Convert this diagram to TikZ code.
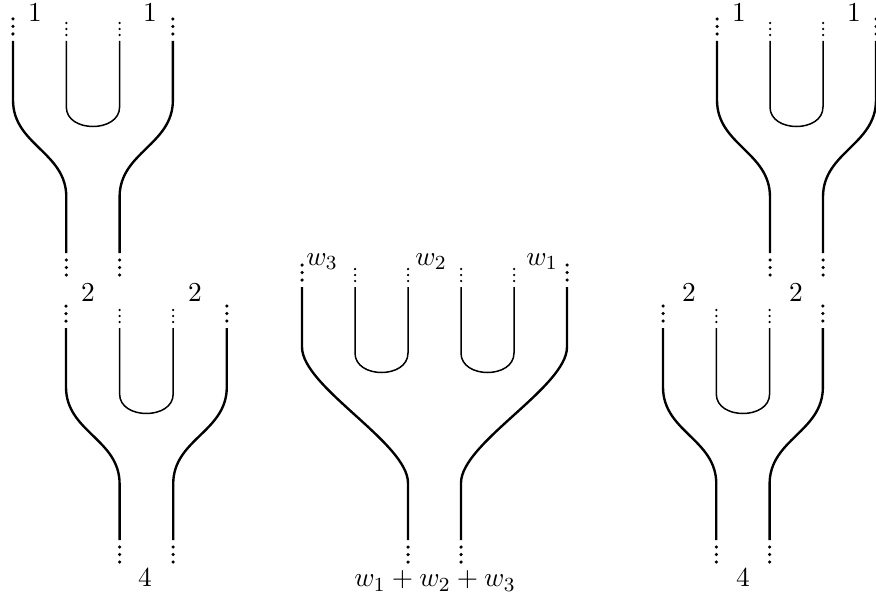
\documentclass[tikz,border=0pt]{standalone}
\begin{document}
\begin{tikzpicture}[x=0.4pt,y=-0.4pt,
  outerstrand/.style={line width=0.95pt},
  innerstrand/.style={line width=0.6pt},
  lbl/.style={anchor=base,inner sep=0pt,font=\fontsize{11}{13}\selectfont}]
\useasboundingbox (0,0) rectangle (876,600);
% helper macros: big dots above / below a strand end, small dots above
\newcommand\bigdotsup[2]{\foreach \d in {7,14.5,22}{\fill (#1,#2-\d) circle (0.7pt);}}
\newcommand\bigdotsdown[2]{\foreach \d in {7,14.5,22}{\fill (#1,#2+\d) circle (0.7pt);}}
\newcommand\smalldotsup[2]{\foreach \d in {6,12,18}{\fill (#1,#2-\d) circle (0.5pt);}}
% fork: #1 = x of outer left strand, #2 = y of top, #3 = spacing
\newcommand\myfork[3]{%
  \begin{scope}[shift={(#1,#2)}]
    \draw[outerstrand] (0,0) -- (0,59) .. controls (0,104) and (#3,111) .. (#3,156) -- (#3,212);
    \draw[outerstrand] (3*#3,0) -- (3*#3,59) .. controls (3*#3,104) and (2*#3,111) .. (2*#3,156) -- (2*#3,212);
    \draw[innerstrand] (#3,0) -- (#3,66) .. controls (#3,92) and (2*#3,92) .. (2*#3,66) -- (2*#3,0);
    \bigdotsup{0}{0}
    \bigdotsup{3*#3}{0}
    \smalldotsup{#3}{0}
    \smalldotsup{2*#3}{0}
    \bigdotsdown{#3}{212}
    \bigdotsdown{2*#3}{212}
  \end{scope}}
\myfork{13}{41}{53.3}
\myfork{66}{328}{53.6}
\myfork{717}{41}{53}
\myfork{663}{328}{53.3}
% middle fork
\begin{scope}[shift={(302,287)}]
  \draw[outerstrand] (0,0) -- (0,60) .. controls (0,100) and (106,156) .. (106,196) -- (106,253);
  \draw[outerstrand] (265,0) -- (265,60) .. controls (265,100) and (159,156) .. (159,196) -- (159,253);
  \draw[innerstrand] (53,0) -- (53,66) .. controls (53,92) and (106,92) .. (106,66) -- (106,0);
  \draw[innerstrand] (159,0) -- (159,66) .. controls (159,92) and (212,92) .. (212,66) -- (212,0);
  \bigdotsup{0}{0}
  \bigdotsup{265}{0}
  \foreach \xx in {53,106,159,212}{\smalldotsup{\xx}{0}}
  \bigdotsdown{106}{253}
  \bigdotsdown{159}{253}
\end{scope}
% labels
\node[lbl] (a1) at (35,21) {$1$};
\node[lbl] (a2) at (150,21) {$1$};
\node[lbl] (c1) at (739,21) {$1$};
\node[lbl] (c2) at (854,21) {$1$};
\node[lbl] (b1) at (88,302) {$2$};
\node[lbl] (b2) at (195,302) {$2$};
\node[lbl] (d1) at (689,302) {$2$};
\node[lbl] (d2) at (796,302) {$2$};
\node[lbl] (m3) at (322,265) {$w_3$};
\node[lbl] (m2) at (431,265) {$w_2$};
\node[lbl] (m1) at (542,265) {$w_1$};
\node[lbl] (b4) at (145,587) {$4$};
\node[lbl] (d4) at (743,587) {$4$};
\node[lbl] (ms) at (435,587) {$w_1+w_2+w_3$};
\end{tikzpicture}
\end{document}
